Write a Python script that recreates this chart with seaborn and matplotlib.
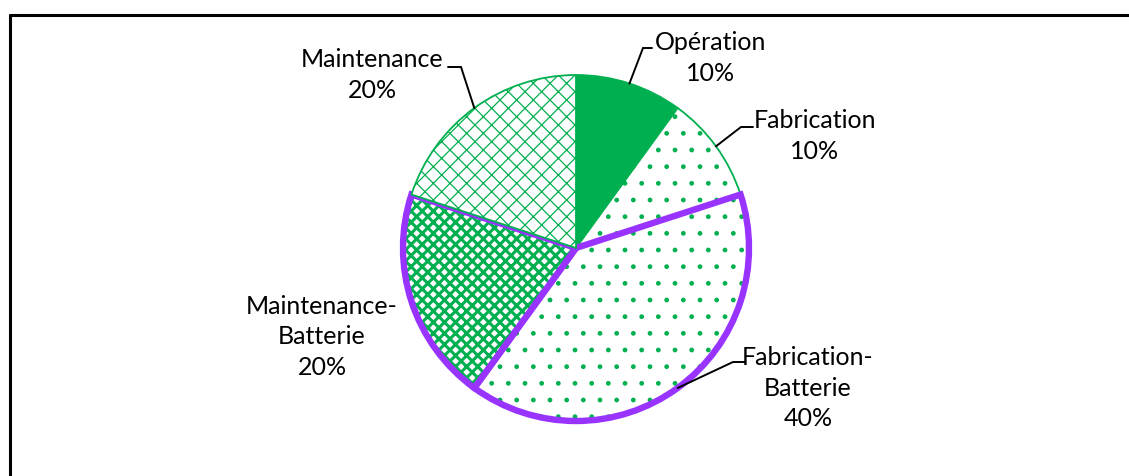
import numpy as np
import pandas as pd
import seaborn as sns
import matplotlib.pyplot as plt
from matplotlib.lines import Line2D

sns.set_theme(style='white')
plt.rcParams['font.family'] = ['Lato', 'DejaVu Sans']

# data
categories = ['Opération', 'Fabrication', 'Fabrication-\nBatterie', 'Maintenance-\nBatterie', 'Maintenance']
shares = [10, 10, 40, 20, 20]
battery = [False, False, True, True, False]

GREEN = '#00B050'
PURPLE = '#9933FF'
facecolors = [GREEN, 'white', 'white', 'white', 'white']
hatches = ['', '.', '.', 'xxx', 'xx']
hatch_lw = [1.0, 1.0, 1.0, 2.2, 0.9]

# layout, in pixels from the top-left corner
center = (576, 248)
radius = 173
label_xy = [(711, 58), (815, 136), (808, 388), (322, 337), (372, 75)]
elbows = [((652, 48), (643, 48)), ((753, 127), (741, 127)), ((745, 362), (733, 362)),
          None, ((448, 67), (461, 67))]

df = pd.DataFrame({'categorie': categories, 'part': shares, 'batterie': battery})

fig = plt.figure(figsize=(11.29, 4.76), dpi=100)
ax = fig.add_axes([0, 0, 1, 1])

# y axis runs downward, so counterclock=True reads clockwise on screen
wedges, _ = ax.pie(df['part'], colors=facecolors, startangle=-90, counterclock=True,
                   center=center, radius=radius,
                   wedgeprops=dict(edgecolor=GREEN, linewidth=1.3))
outlines, _ = ax.pie(df['part'], colors=['none'] * len(df), startangle=-90, counterclock=True,
                     center=center, radius=radius,
                     wedgeprops=dict(fill=False, linewidth=0))

for i, (w, o) in enumerate(zip(wedges, outlines)):
    w.set_hatch(hatches[i])
    if hasattr(w, 'set_hatch_linewidth'):
        w.set_hatch_linewidth(hatch_lw[i])
    w.set_zorder(2 + 2 * i)
    o.set_zorder(3 + 2 * i)
    if df['batterie'][i]:
        o.set_edgecolor(PURPLE)
        o.set_linewidth(4.6)
        o.set_joinstyle('miter')

ax.set_xlim(0, 1129)
ax.set_ylim(476, 0)
ax.axis('off')

for i, w in enumerate(wedges):
    name = df['categorie'][i]
    tx, ty = label_xy[i]
    ax.text(tx, ty, f"{name}\n{df['part'][i]}%", ha='center', va='center',
            fontsize=18, linespacing=1.38, color='black', zorder=20)
    if elbows[i] is not None:
        mid = np.deg2rad((w.theta1 + w.theta2) / 2)
        ex = center[0] + radius * np.cos(mid)
        ey = center[1] + radius * np.sin(mid)
        (x0, y0), (x1, y1) = elbows[i]
        ax.plot([x0, x1, ex], [y0, y1, ey], color='black', lw=1.4, zorder=20,
                solid_joinstyle='miter')

# frame of the original chart area (only top and left edges visible)
fig.add_artist(Line2D([10 / 1129, 10 / 1129], [0, 1 - 15 / 476], color='black', lw=2.2))
fig.add_artist(Line2D([10 / 1129, 1], [1 - 15 / 476, 1 - 15 / 476], color='black', lw=2.2))

fig.savefig('out.png', dpi=100, facecolor='white')
